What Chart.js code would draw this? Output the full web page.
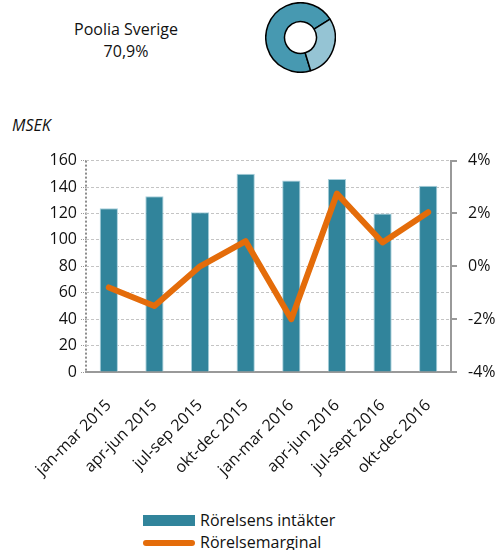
<!DOCTYPE html>
<html lang="sv">
<head>
    <meta charset="UTF-8">
    <title>Poolia Sverige</title>
    <script src="https://cdn.jsdelivr.net/npm/chart.js"></script>
    <style>
body {
    margin: 0;
    padding: 0;
    width: 497px;
    height: 550px;
    overflow: hidden;
    background: #fff;
    font-family: "Open Sans", sans-serif;
    color: #111;
    position: relative;
}

.title {
    position: absolute;
    left: 46px;
    width: 160px;
    text-align: center;
    font-size: 16px;
    line-height: 22px;
}

.donut-box {
    position: absolute;
    left: 265px;
    top: 2px;
    width: 71px;
    height: 71px;
}

.unit {
    position: absolute;
    left: 12px;
    top: 114px;
    font-size: 16px;
    font-style: italic;
}

.chart-box {
    position: absolute;
    left: 0;
    top: 140px;
    width: 497px;
    height: 340px;
}

.legend-item {
    position: absolute;
    left: 143px;
    font-size: 16px;
    line-height: 20px;
}

.legend-item .swatch {
    position: absolute;
    left: 0;
    width: 52px;
}

.legend-item span {
    position: absolute;
    left: 57px;
    top: 0;
    white-space: nowrap;
}
    </style>
</head>
<body>
    <div class="title" style="top: 18px;">Poolia Sverige</div>
    <div class="title" style="top: 40px;">70,9%</div>
    <div class="donut-box"><canvas id="donut"></canvas></div>

    <div class="unit">MSEK</div>
    <div class="chart-box"><canvas id="main"></canvas></div>

    <div class="legend-item" style="top: 510px;">
        <div class="swatch" style="top: 5px; height: 11px; background: #31849B;"></div>
        <span>Rörelsens intäkter</span>
    </div>
    <div class="legend-item" style="top: 532px;">
        <div class="swatch" style="top: 8px; height: 6px; border-radius: 3px; background: #E46C0A;"></div>
        <span>Rörelsemarginal</span>
    </div>

    <script>
        // Data
        const quarters = ['jan-mar 2015', 'apr-jun 2015', 'jul-sep 2015', 'okt-dec 2015',
                          'jan-mar 2016', 'apr-jun 2016', 'jul-sept 2016', 'okt-dec 2016'];
        const revenue = [124, 133, 121, 150, 145, 146, 120, 141];      // MSEK
        const margin = [-0.8, -1.5, 0.0, 0.95, -2.0, 2.75, 0.9, 2.05];   // %
        const shareLabels = ['Poolia Sverige', 'Övrigt'];
        const shareValues = [70.9, 29.1];

        const tickFont = { family: '"Open Sans", sans-serif', size: 16 };
        const textColor = '#111';

        // Small donut at the top
        new Chart(document.getElementById('donut'), {
            type: 'doughnut',
            data: {
                labels: shareLabels,
                datasets: [{
                    data: shareValues,
                    backgroundColor: ['#4799B1', '#95C4D4'],
                    borderColor: '#000',
                    borderWidth: 1.5,
                }],
            },
            options: {
                responsive: true,
                maintainAspectRatio: false,
                animation: false,
                rotation: 163,
                cutout: '46%',
                plugins: { legend: { display: false }, tooltip: { enabled: false } },
            },
        });

        // Main combo chart
        new Chart(document.getElementById('main'), {
            type: 'bar',
            data: {
                labels: quarters,
                datasets: [
                    {
                        type: 'line',
                        label: 'Rörelsemarginal',
                        data: margin,
                        yAxisID: 'y1',
                        borderColor: '#E46C0A',
                        borderWidth: 6,
                        borderJoinStyle: 'round',
                        borderCapStyle: 'round',
                        pointRadius: 0,
                        tension: 0,
                        order: 0,
                    },
                    {
                        label: 'Rörelsens intäkter',
                        data: revenue,
                        yAxisID: 'y',
                        backgroundColor: '#31849B',
                        borderColor: '#A9D0DC',
                        borderWidth: 1,
                        categoryPercentage: 1,
                        barPercentage: 0.4,
                        order: 1,
                    },
                ],
            },
            options: {
                responsive: true,
                maintainAspectRatio: false,
                animation: false,
                layout: { padding: 0 },
                plugins: { legend: { display: false }, tooltip: { enabled: false } },
                scales: {
                    x: {
                        grid: {
                            // only the left edge line, dotted
                            color: (c) => c.index === 0 ? '#8c8c8c' : 'transparent',
                            lineWidth: 2,
                            drawTicks: false,
                        },
                        border: { color: '#999', width: 2, dash: [2, 2] },
                        ticks: {
                            font: tickFont,
                            color: textColor,
                            minRotation: 45,
                            maxRotation: 45,
                            padding: 24,
                        },
                        afterFit: (s) => { s.height = 108; },
                    },
                    y: {
                        position: 'left',
                        min: 0,
                        max: 160,
                        ticks: { stepSize: 20, font: tickFont, color: textColor, padding: 4 },
                        grid: {
                            color: '#c4c4c4',
                            tickColor: '#999',
                            tickLength: 5,
                            tickBorderDash: [1, 1],
                        },
                        border: { display: false, dash: [3, 2] },
                        afterFit: (s) => { s.width = 86; },
                    },
                    y1: {
                        position: 'right',
                        min: -4,
                        max: 4,
                        ticks: {
                            stepSize: 2,
                            font: tickFont,
                            color: textColor,
                            padding: 11,
                            callback: (v) => v + '%',
                        },
                        grid: {
                            drawOnChartArea: false,
                            tickColor: '#999',
                            tickLength: 6,
                            lineWidth: 2,
                        },
                        border: { color: '#999', width: 2 },
                        afterFit: (s) => { s.width = 46; },
                    },
                },
            },
        });
    </script>
</body>
</html>
